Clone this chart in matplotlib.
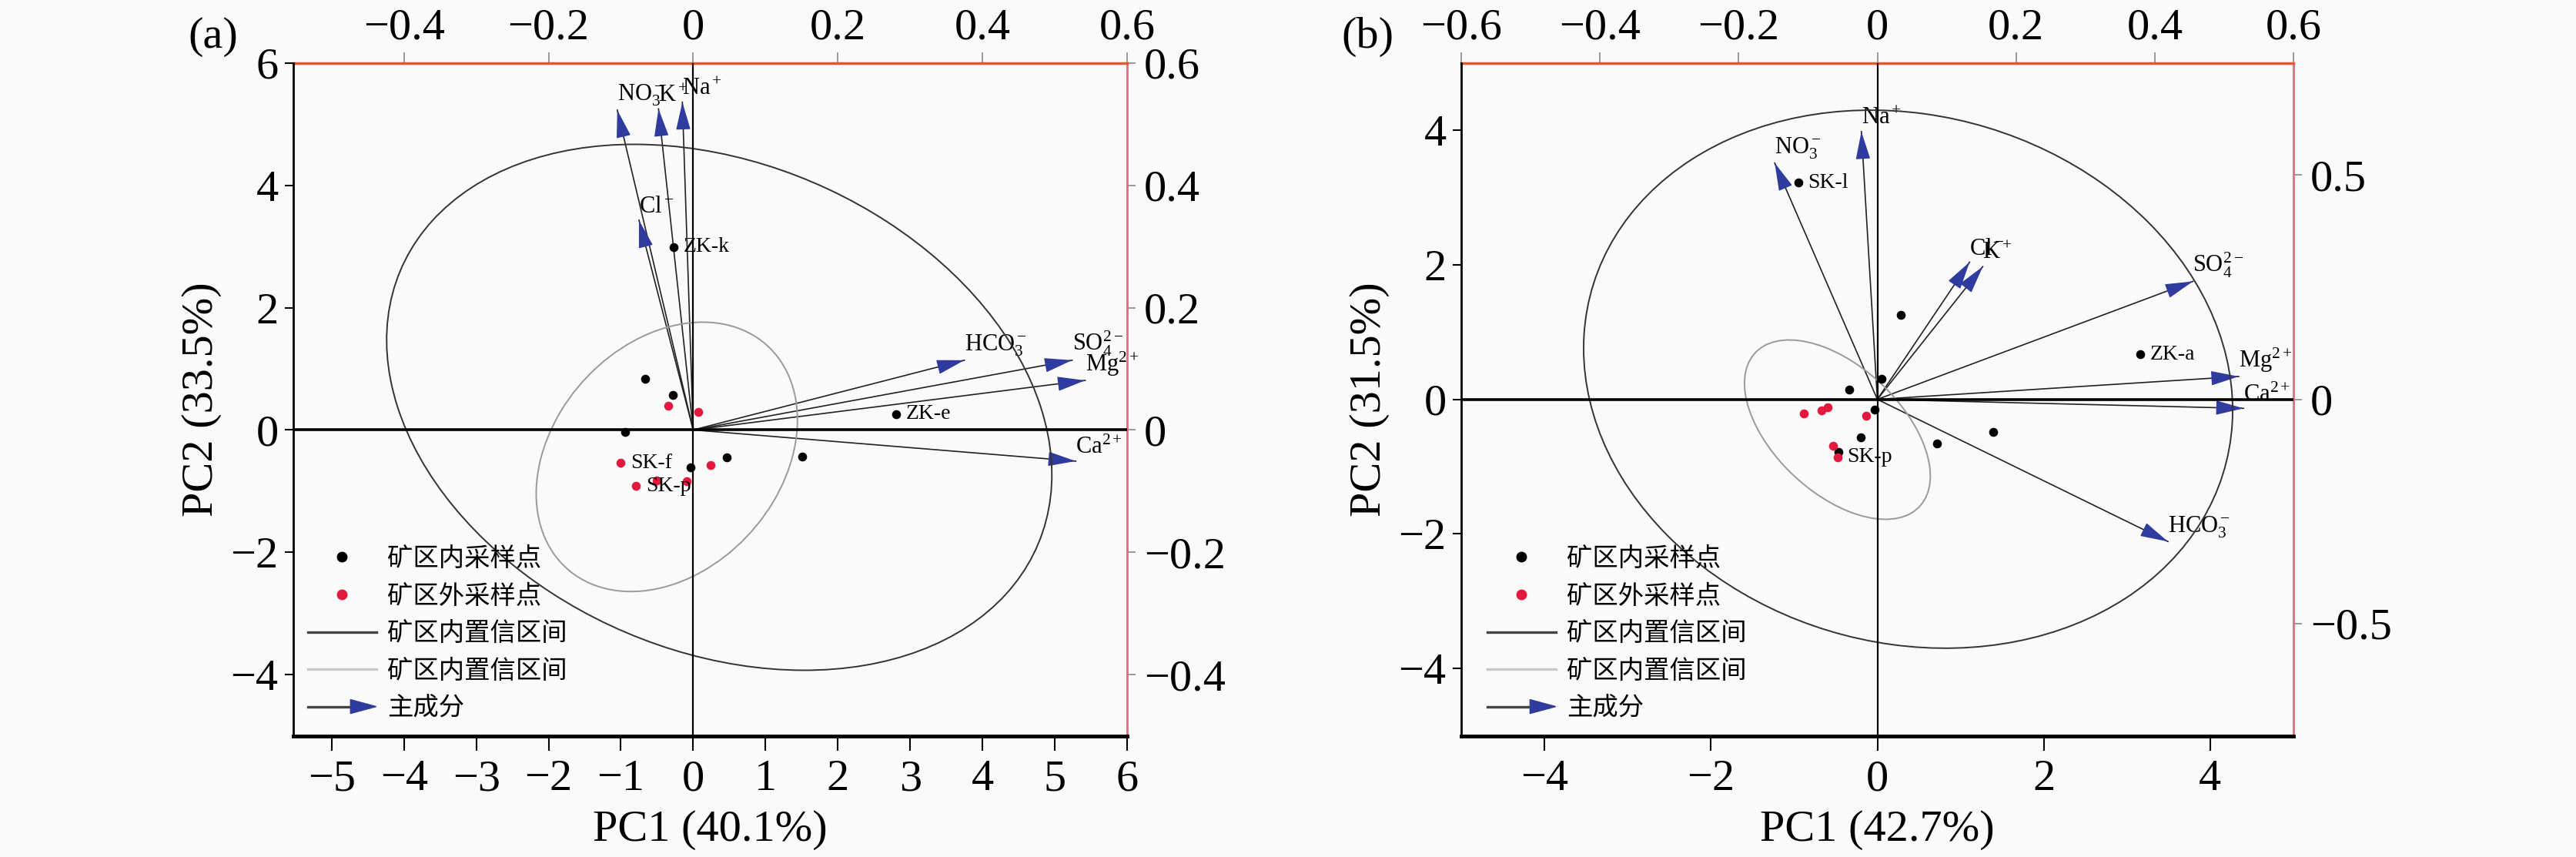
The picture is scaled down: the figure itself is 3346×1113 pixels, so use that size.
import matplotlib
matplotlib.use('Agg')
import matplotlib.pyplot as plt
from matplotlib.patches import Ellipse, Polygon
from matplotlib.lines import Line2D
from matplotlib.legend_handler import HandlerBase
from matplotlib.ticker import FuncFormatter

plt.rcParams['font.family'] = ['Liberation Serif', 'Noto Sans CJK SC', 'DejaVu Sans']
plt.rcParams['mathtext.fontset'] = 'custom'
plt.rcParams['mathtext.rm'] = 'Liberation Serif'
plt.rcParams['mathtext.it'] = 'Liberation Serif:italic'
plt.rcParams['mathtext.bf'] = 'Liberation Serif:bold'

# ---------------- panel (a) data ----------------
a_ion_labels = [r'NO$_3^-$', r'K$^+$', r'Na$^+$', r'Cl$^-$', r'HCO$_3^-$',
                r'SO$_4^{2-}$', r'Mg$^{2+}$', r'Ca$^{2+}$']
a_load_pc1 = [-0.105, -0.048, -0.015, -0.075, 0.375, 0.524, 0.542, 0.529]
a_load_pc2 = [0.523, 0.525, 0.536, 0.343, 0.114, 0.114, 0.081, -0.051]

a_in_pc1 = [-0.27, -0.66, -0.28, -0.94, -0.04, 0.46, 1.51, 2.81]
a_in_pc2 = [2.99, 0.84, 0.57, -0.03, -0.61, -0.45, -0.44, 0.26]
a_in_names = ['ZK-k', '', '', '', '', '', '', 'ZK-e']
a_out_pc1 = [-0.35, 0.07, -1.00, 0.24, -0.79, -0.09, -0.51]
a_out_pc2 = [0.40, 0.29, -0.54, -0.57, -0.92, -0.84, -0.83]
a_out_names = ['', '', 'SK-f', '', 'SK-p', '', '']

a_ell_in = dict(xy=(0.36, 0.37), width=10.01, height=7.64, angle=-37.6)
a_ell_out = dict(xy=(-0.365, -0.44), width=4.65, height=3.29, angle=63.0)

a_xticks = [-5, -4, -3, -2, -1, 0, 1, 2, 3, 4, 5, 6]
a_yticks = [-4, -2, 0, 2, 4, 6]
a_top_ticks = [-0.4, -0.2, 0, 0.2, 0.4, 0.6]
a_right_ticks = [-0.4, -0.2, 0, 0.2, 0.4, 0.6]

# ---------------- panel (b) data ----------------
b_ion_labels = [r'Na$^+$', r'NO$_3^-$', r'Cl$^-$', r'K$^+$', r'SO$_4^{2-}$',
                r'Mg$^{2+}$', r'Ca$^{2+}$', r'HCO$_3^-$']
b_load_pc1 = [-0.023, -0.148, 0.133, 0.152, 0.455, 0.521, 0.528, 0.419]
b_load_pc2 = [0.597, 0.527, 0.306, 0.296, 0.263, 0.051, -0.020, -0.317]

b_in_pc1 = [-0.95, 0.28, 3.16, 0.05, -0.34, -0.03, -0.20, 0.72, 1.39, -0.47]
b_in_pc2 = [3.22, 1.25, 0.67, 0.30, 0.14, -0.15, -0.56, -0.66, -0.48, -0.78]
b_in_names = ['SK-l', '', 'ZK-a', '', '', '', '', '', '', '']
b_out_pc1 = [-0.88, -0.67, -0.60, -0.13, -0.53, -0.48]
b_out_pc2 = [-0.21, -0.16, -0.12, -0.24, -0.69, -0.86]
b_out_names = ['', '', '', '', '', 'SK-p']

b_ell_in = dict(xy=(0.37, 0.30), width=8.35, height=7.42, angle=-51.2)
b_ell_out = dict(xy=(-0.48, -0.45), width=3.05, height=1.67, angle=-54.5)

b_xticks = [-4, -2, 0, 2, 4]
b_yticks = [-4, -2, 0, 2, 4]
b_top_ticks = [-0.6, -0.4, -0.2, 0, 0.2, 0.4, 0.6]
b_right_ticks = [-0.5, 0, 0.5]

legend_labels = ['矿区内采样点', '矿区外采样点', '矿区内置信区间', '矿区内置信区间', '主成分']

BLUE = '#2f3b9e'
RED = '#e2193c'
BG = '#fafafa'
FS = 42


def fmt(v, pos=None):
    s = ('%g' % v)
    if s == '-0':
        s = '0'
    return s.replace('-', '\u2212')


class ArrowKey:
    pass


class ArrowHandler(HandlerBase):
    def create_artists(self, legend, orig_handle, xdescent, ydescent,
                       width, height, fontsize, trans):
        y = height / 2.0 - ydescent
        x0 = -xdescent
        x1 = -xdescent + width
        line = Line2D([x0, x1 - 6], [y, y], color='#444444', lw=2.4, transform=trans)
        tri = Polygon([[x1, y], [x1 - 24, y + 6.5], [x1 - 24, y - 6.5]], closed=True,
                      facecolor=BLUE, edgecolor=BLUE, transform=trans)
        return [line, tri]


fig = plt.figure(figsize=(33.46, 11.13), dpi=100, facecolor=BG)


def panel(rect, xlim, ylim, lxlim, lylim, xticks, yticks, tticks, rticks,
          ion_labels, lpc1, lpc2, in1, in2, in_names, out1, out2, out_names,
          ell_in, ell_out, xlabel, ylabel, leg_x):
    ax2 = fig.add_axes(rect)
    ax = fig.add_axes(rect)
    ax2.set_zorder(1)
    ax.set_zorder(2)
    ax.patch.set_visible(False)
    ax2.patch.set_visible(False)

    # main (scores) axes
    ax.set_xlim(*xlim)
    ax.set_ylim(*ylim)
    ax.set_xticks(xticks)
    ax.set_yticks(yticks)
    ax.xaxis.set_major_formatter(FuncFormatter(fmt))
    ax.yaxis.set_major_formatter(FuncFormatter(fmt))
    for s in ['top', 'right']:
        ax.spines[s].set_visible(False)
    ax.spines['left'].set_linewidth(2.0)
    ax.spines['bottom'].set_linewidth(3.5)
    ax.tick_params(axis='x', direction='out', length=14, width=1.5, pad=8, labelsize=FS)
    ax.tick_params(axis='y', direction='out', length=8, width=1.5, pad=6, labelsize=FS)
    ax.set_xlabel(xlabel, fontsize=FS, labelpad=10)
    ax.set_ylabel(ylabel, fontsize=FS, labelpad=8)

    ax.axhline(0, color='black', lw=2.6, zorder=2)
    ax.axvline(0, color='black', lw=1.6, zorder=2)

    ax.add_patch(Ellipse(**ell_in, fill=False, edgecolor='#333333', lw=1.4, zorder=1))
    ax.add_patch(Ellipse(**ell_out, fill=False, edgecolor='#9a9a9a', lw=1.4, zorder=1))

    ax.scatter(in1, in2, s=70, color='black', zorder=5, linewidths=0)
    ax.scatter(out1, out2, s=70, color=RED, zorder=5, linewidths=0)
    for x, y, n in list(zip(in1, in2, in_names)) + list(zip(out1, out2, out_names)):
        if n:
            ax.annotate(n, (x, y), xytext=(9, 0), textcoords='offset points',
                        ha='left', va='center', fontsize=20, zorder=6)

    # loadings axes (top / right)
    ax2.set_xlim(*lxlim)
    ax2.set_ylim(*lylim)
    ax2.set_xticks(tticks)
    ax2.set_yticks(rticks)
    ax2.xaxis.set_major_formatter(FuncFormatter(fmt))
    ax2.yaxis.set_major_formatter(FuncFormatter(fmt))
    ax2.xaxis.set_ticks_position('top')
    ax2.yaxis.set_ticks_position('right')
    ax2.spines['left'].set_visible(False)
    ax2.spines['bottom'].set_visible(False)
    ax2.spines['top'].set_color('#e8572f')
    ax2.spines['top'].set_linewidth(2.5)
    ax2.spines['right'].set_color('#d9707f')
    ax2.spines['right'].set_linewidth(2.0)
    ax2.tick_params(axis='x', direction='out', length=10, width=1.2, pad=4,
                    labelsize=FS, color='#888888')
    ax2.tick_params(axis='y', direction='out', length=8, width=1.2, pad=8,
                    labelsize=FS, color='#888888')

    for x, y, lab in zip(lpc1, lpc2, ion_labels):
        ax2.plot([0, x], [0, y], color='#222222', lw=1.2, zorder=2)
        ax2.annotate('', xy=(x, y), xytext=(0.96 * x, 0.96 * y),
                     arrowprops=dict(arrowstyle='-|>,head_length=23,head_width=6',
                                     color=BLUE, lw=1.0, shrinkA=0, shrinkB=0,
                                     mutation_scale=1), zorder=3)
        ax2.annotate(lab, xy=(x, y), xytext=(0, 2), textcoords='offset points',
                     ha='left', va='bottom', fontsize=22, zorder=4)

    handles = [Line2D([], [], marker='o', ls='none', color='black', markersize=9),
               Line2D([], [], marker='o', ls='none', color=RED, markersize=9),
               Line2D([], [], color='#444444', lw=2.4),
               Line2D([], [], color='#c8c8c8', lw=2.4),
               ArrowKey()]
    leg = ax.legend(handles, legend_labels, loc='lower left',
                    bbox_to_anchor=(leg_x, 0.022), frameon=False, fontsize=24,
                    handlelength=2.66, handletextpad=0.44, labelspacing=0.53,
                    borderpad=0, borderaxespad=0,
                    handler_map={ArrowKey: ArrowHandler()})
    leg.set_zorder(10)
    return ax, ax2


H = 0.785
B = 0.1415
panel([381 / 3346, B, 1083 / 3346, H], (-5.53, 6), (-5, 6), (-0.553, 0.6), (-0.5, 0.6),
      a_xticks, a_yticks, a_top_ticks, a_right_ticks,
      a_ion_labels, a_load_pc1, a_load_pc2, a_in_pc1, a_in_pc2, a_in_names,
      a_out_pc1, a_out_pc2, a_out_names, a_ell_in, a_ell_out,
      'PC1 (40.1%)', 'PC2 (33.5%)', 0.0175)

panel([1898 / 3346, B, 1081 / 3346, H], (-5, 5), (-5, 5), (-0.6, 0.6), (-0.75, 0.75),
      b_xticks, b_yticks, b_top_ticks, b_right_ticks,
      b_ion_labels, b_load_pc1, b_load_pc2, b_in_pc1, b_in_pc2, b_in_names,
      b_out_pc1, b_out_pc2, b_out_names, b_ell_in, b_ell_out,
      'PC1 (42.7%)', 'PC2 (31.5%)', 0.0315)

fig.text(277 / 3346, 1 - 48 / 1113, '(a)', fontsize=FS, ha='center', va='center')
fig.text(1776 / 3346, 1 - 48 / 1113, '(b)', fontsize=FS, ha='center', va='center')

fig.savefig('out.png', dpi=100, facecolor=BG)
